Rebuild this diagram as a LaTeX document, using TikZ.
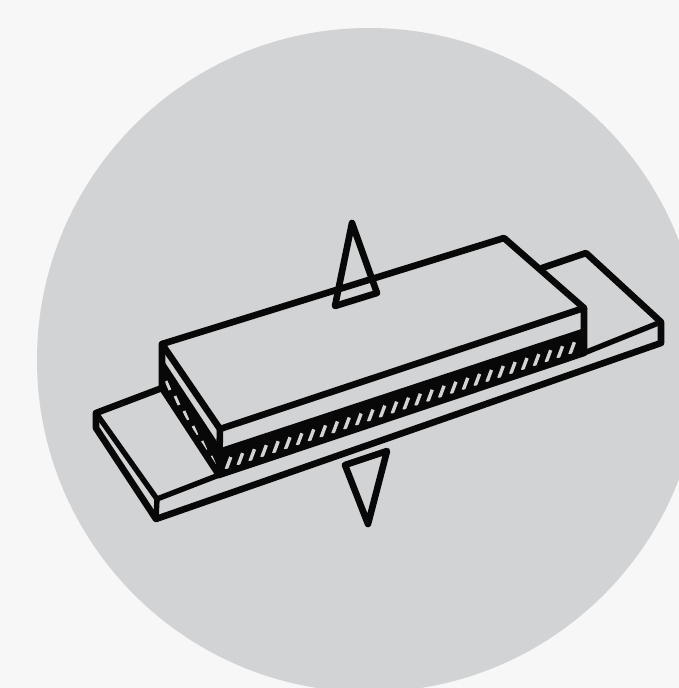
\documentclass[tikz,border=0pt]{standalone}
\usepackage{xcolor}
\usetikzlibrary{calc}
\definecolor{acpaper}{RGB}{247,247,247}
\definecolor{acdisc}{RGB}{210,211,213}
\definecolor{acink}{RGB}{8,8,8}

\begin{document}
\begin{tikzpicture}[
  x=1pt, y=-1pt,
  edge/.style={draw=acink, line width=6.6pt, line join=round, line cap=round},
  thin edge/.style={edge, line width=5.4pt},
  stripe/.style={draw=acdisc, line width=3.4pt},
]
\fill[acpaper] (0,0) rectangle (679,688);
\begin{scope}
  \clip (0,0) rectangle (679,688);
  \fill[acdisc] (369,360) circle (332);
\end{scope}
\useasboundingbox (0,0) rectangle (679,688);

% plate
\coordinate (pl) at (96,413);
\coordinate (pb) at (157,499);
\coordinate (pr) at (661,322);
\coordinate (pk) at (586,253);
\coordinate (plb) at (96,428);
\coordinate (pbb) at (156,519);
\coordinate (prb) at (661,343);
% block
\coordinate (tl) at (162,344);
\coordinate (tf) at (220,429);
\coordinate (tr) at (584,308);
\coordinate (tk) at (504,238);
\coordinate (ml) at (162,363);
\coordinate (mf) at (220,451);
\coordinate (mr) at (584,331);
\coordinate (bl) at (162,388);
\coordinate (bf) at (219,475);
\coordinate (br) at (584,353);

% plate outline
\draw[edge] (bl) -- (pl) -- (plb) -- (pbb) -- (prb) -- (pr) -- (pk) -- (542,268);
\draw[thin edge] (pl) -- (pb) -- (pbb);
\draw[thin edge] (pb) -- (bf);
\draw[thin edge] (br) -- (pr);

% hatched bands
\fill[acink] (mf) -- (mr) -- (br) -- (bf) -- cycle;
\fill[acink] (ml) -- (mf) -- (bf) -- (bl) -- cycle;
\foreach \t in {0.012,0.045,...,0.99}
  \draw[stripe] ($(222,470.5)!\t!(581,350.5)$) -- +(4.5,-12);
\foreach \t in {0,0.2,...,1.01}
  \draw[stripe, line width=2.8pt] ($(166,381)!\t!(211,456)$) -- +(4,9);

% block
\draw[edge] (tl) -- (tk) -- (tr) -- (tf) -- cycle;
\draw[edge] (tl) -- (bl) -- (bf) -- (br) -- (tr);
\draw[edge] (tf) -- (bf);
\draw[thin edge] (ml) -- (mf) -- (mr);

% arrows
\draw[edge] (352,223) -- (335,306) -- (377,293) -- cycle;
\draw[edge] (345,465) -- (387,451) -- (368,524) -- cycle;
\end{tikzpicture}
\end{document}
